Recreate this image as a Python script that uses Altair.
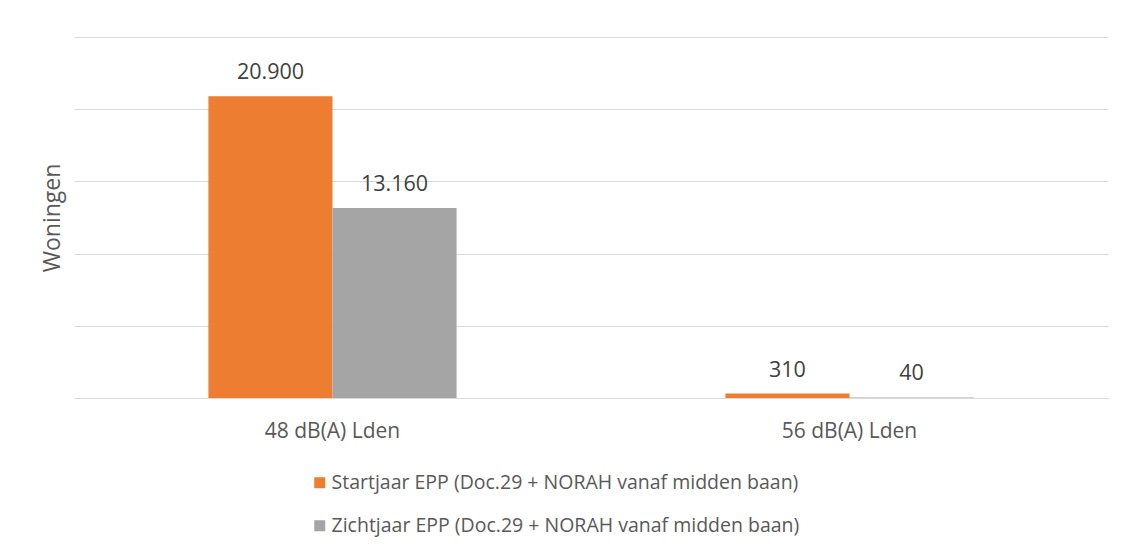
import altair as alt
import pandas as pd

categories = ["48 dB(A) Lden", "56 dB(A) Lden"]
series = [
    "Startjaar EPP (Doc.29 + NORAH vanaf midden baan)",
    "Zichtjaar EPP (Doc.29 + NORAH vanaf midden baan)",
]
startjaar = [20900, 310]
zichtjaar = [13160, 40]
colors = ["#ED7D31", "#A5A5A5"]
y_ticks = [0, 5000, 10000, 15000, 20000, 25000]

rows = []
for i, c in enumerate(categories):
    for s, vals in zip(series, [startjaar, zichtjaar]):
        v = vals[i]
        rows.append({"cat": c, "serie": s, "value": v,
                     "label": f"{v:,}".replace(",", ".")})
df = pd.DataFrame(rows)

FONT = "Open Sans"

base = alt.Chart(df).encode(
    x=alt.X("cat:N", sort=categories,
            scale=alt.Scale(paddingInner=0.52, paddingOuter=0.26),
            axis=alt.Axis(title=None, labelAngle=0, ticks=False, tickSize=0,
                          labelPadding=39, labelBaseline="alphabetic",
                          labelFontSize=21, labelColor="#595959", labelFont=FONT,
                          domainColor="#d9d9d9", domainWidth=1, grid=False)),
    xOffset=alt.XOffset("serie:N", sort=series),
    y=alt.Y("value:Q",
            scale=alt.Scale(domain=[0, 25000], nice=False),
            axis=alt.Axis(title="Woningen", labels=False, ticks=False, tickSize=0,
                          domain=False, values=y_ticks,
                          gridColor="#d9d9d9", gridWidth=1,
                          titleFont=FONT, titleFontSize=23, titleFontWeight="normal",
                          titleColor="#595959", titlePadding=10)),
)

bars = base.mark_bar().encode(
    color=alt.Color("serie:N", sort=series,
                    scale=alt.Scale(domain=series, range=colors),
                    legend=alt.Legend(title=None, orient="none", legendX=236, legendY=436,
                                      direction="vertical", symbolType="square",
                                      symbolSize=121, symbolStrokeWidth=0,
                                      labelFont=FONT, labelFontSize=19.5,
                                      labelColor="#595959", labelOffset=2,
                                      rowPadding=22, padding=0, labelLimit=1000))
)

text = base.mark_text(dy=-17, baseline="alphabetic", align="center",
                      font=FONT, fontSize=21.5, color="#404040").encode(
    text="label:N"
)

chart = alt.layer(bars, text).properties(
    width=1034, height=361,
    background="white",
    autosize=alt.AutoSizeParams(type="none"),
    padding={"left": 66, "top": 29, "right": 14, "bottom": 153},
).configure_view(strokeWidth=0, stroke=None)

chart.save("out.html", embed_options={"renderer": "svg", "actions": False})
